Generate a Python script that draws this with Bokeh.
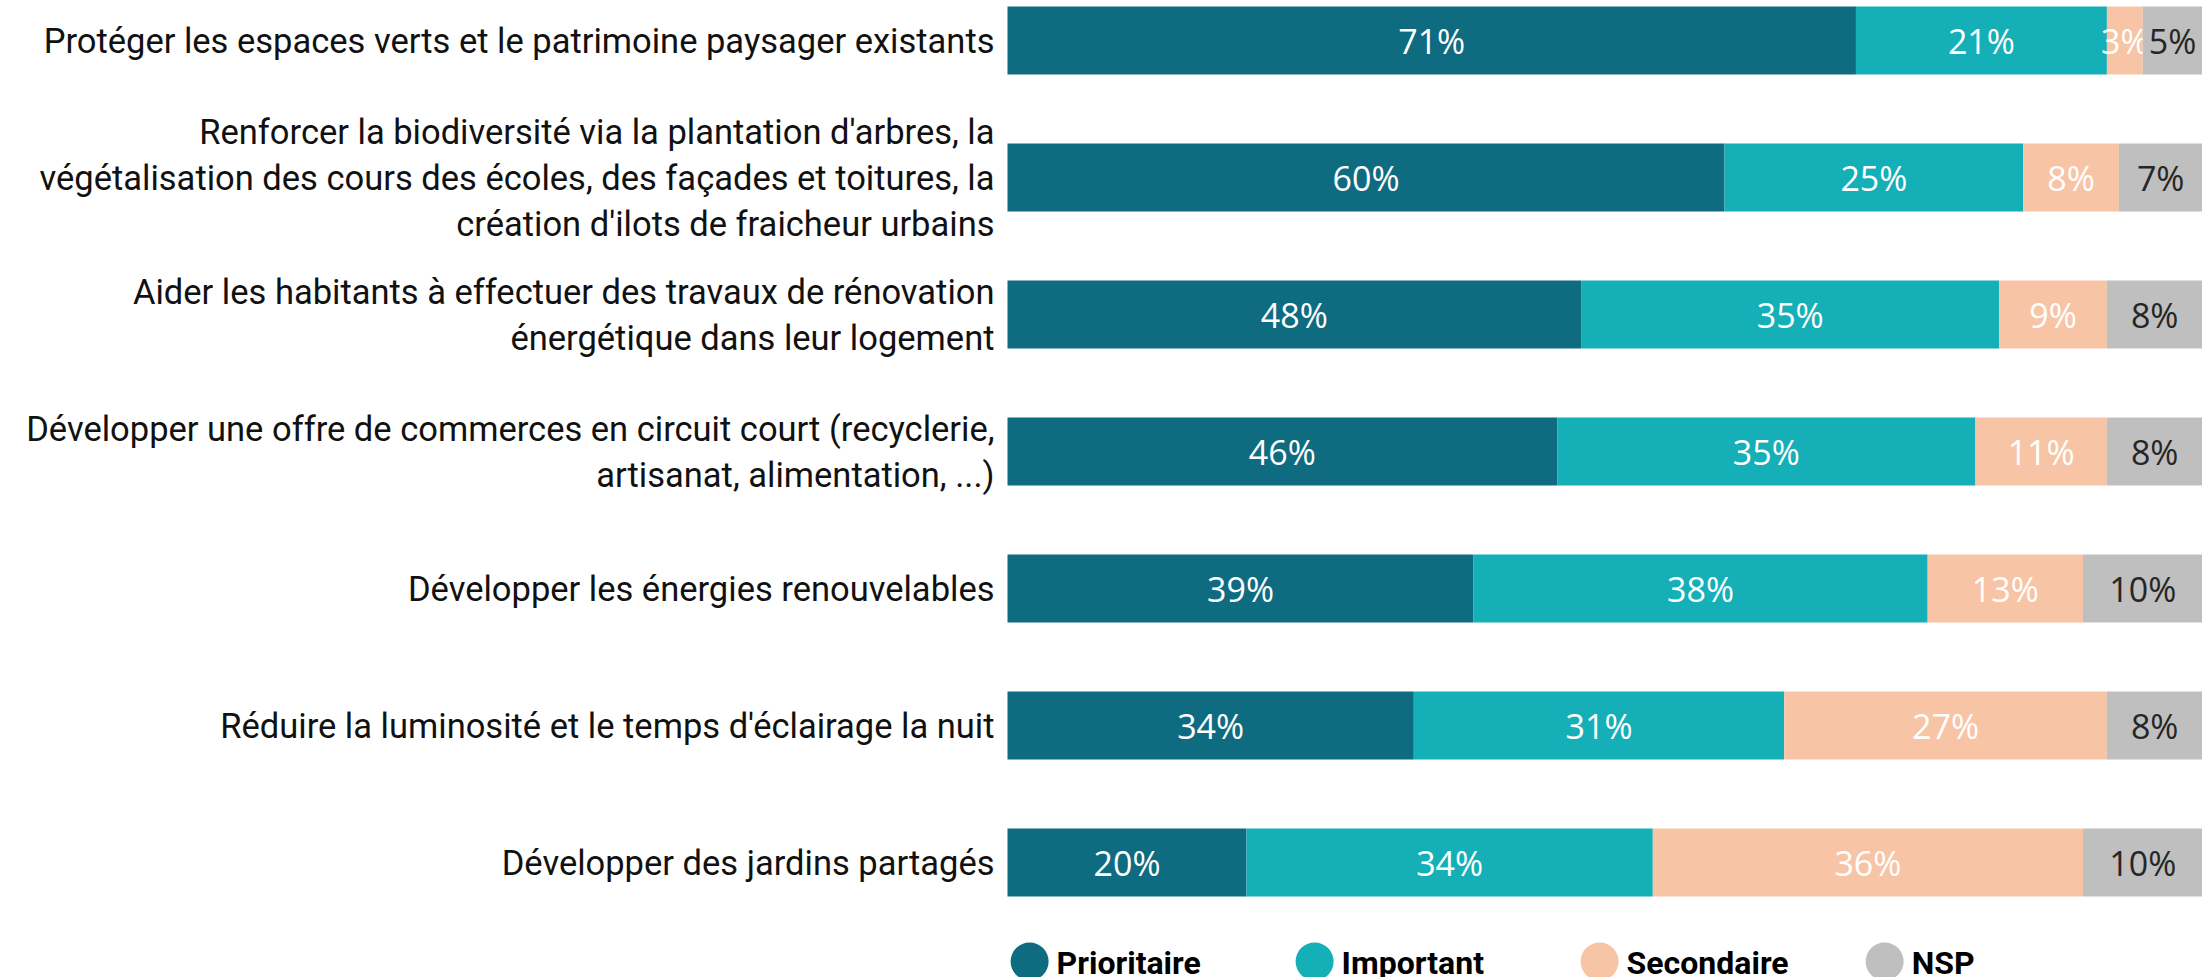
import numpy as np
from bokeh.plotting import figure
from bokeh.models import Range1d, ColumnDataSource
from bokeh.core.properties import value
from bokeh.embed import file_html
from bokeh.resources import INLINE

categories = [
    "Protéger les espaces verts et le patrimoine paysager existants",
    "Renforcer la biodiversité via la plantation d'arbres, la\nvégétalisation des cours des écoles, des façades et toitures, la\ncréation d'ilots de fraicheur urbains",
    "Aider les habitants à effectuer des travaux de rénovation\nénergétique dans leur logement",
    "Développer une offre de commerces en circuit court (recyclerie,\nartisanat, alimentation, ...)",
    "Développer les énergies renouvelables",
    "Réduire la luminosité et le temps d'éclairage la nuit",
    "Développer des jardins partagés",
]
series_names = ["Prioritaire", "Important", "Secondaire", "NSP"]
prioritaire = [71, 60, 48, 46, 39, 34, 20]
important = [21, 25, 35, 35, 38, 31, 34]
secondaire = [3, 8, 9, 11, 13, 27, 36]
nsp = [5, 7, 8, 8, 10, 8, 10]

colors = ["#0F6B80", "#14AFB7", "#F7C5A5", "#BFBFBF"]
label_colors = ["#FFFFFF", "#FFFFFF", "#FFFFFF", "#262626"]

W, H = 2202, 977
x0_px = 1007.0          # pixel position of 0 %
px_per_pct = 11.95
row_px = 137.0
first_center_px = 40.0

x_start = -x0_px / px_per_pct
x_end = (W - x0_px) / px_per_pct
y_top = -first_center_px / row_px
y_bottom = (H - first_center_px) / row_px

p = figure(width=W, height=H, output_backend="svg", toolbar_location=None,
           x_range=Range1d(x_start, x_end), y_range=Range1d(y_bottom, y_top),
           min_border=0, outline_line_color=None)
p.axis.visible = False
p.grid.visible = False
p.background_fill_color = "white"
p.border_fill_color = "white"

idx = np.arange(len(categories))
series = [np.array(prioritaire), np.array(important), np.array(secondaire), np.array(nsp)]
left = np.zeros(len(categories))
for s, vals in enumerate(series):
    right = left + vals
    src = ColumnDataSource(dict(y=idx, left=left, right=right,
                                mid=(left + right) / 2,
                                lab=[f"{v}%" for v in vals]))
    p.hbar(y="y", left="left", right="right", height=68 / row_px, source=src,
           fill_color=colors[s], line_color=None)
    p.text(x="mid", y="y", text="lab", source=src, text_align="center",
           text_baseline="middle", text_font=value("Open Sans"),
           text_font_size="34px", text_color=label_colors[s])
    left = right

cat_src = ColumnDataSource(dict(x=np.zeros(len(categories)), y=idx, t=categories))
p.text(x="x", y="y", text="t", source=cat_src, x_offset=-13, text_align="right",
       text_baseline="middle", text_font=value("Roboto"), text_font_size="34.5px",
       text_color="#111111", text_line_height=1.15)

# legend
leg_y = (961 - first_center_px) / row_px
leg_x = [1.85 + 23.85 * i for i in range(4)]
p.scatter(x=leg_x, y=[leg_y] * 4, size=38, marker="circle",
          fill_color=colors, line_color=None)
p.text(x=leg_x, y=[leg_y] * 4, text=series_names, x_offset=27, y_offset=1,
       text_align="left", text_baseline="middle", text_font=value("Roboto"),
       text_font_style="bold", text_font_size="32px", text_color="#000000")

open("out.html", "w").write(file_html(p, INLINE))
